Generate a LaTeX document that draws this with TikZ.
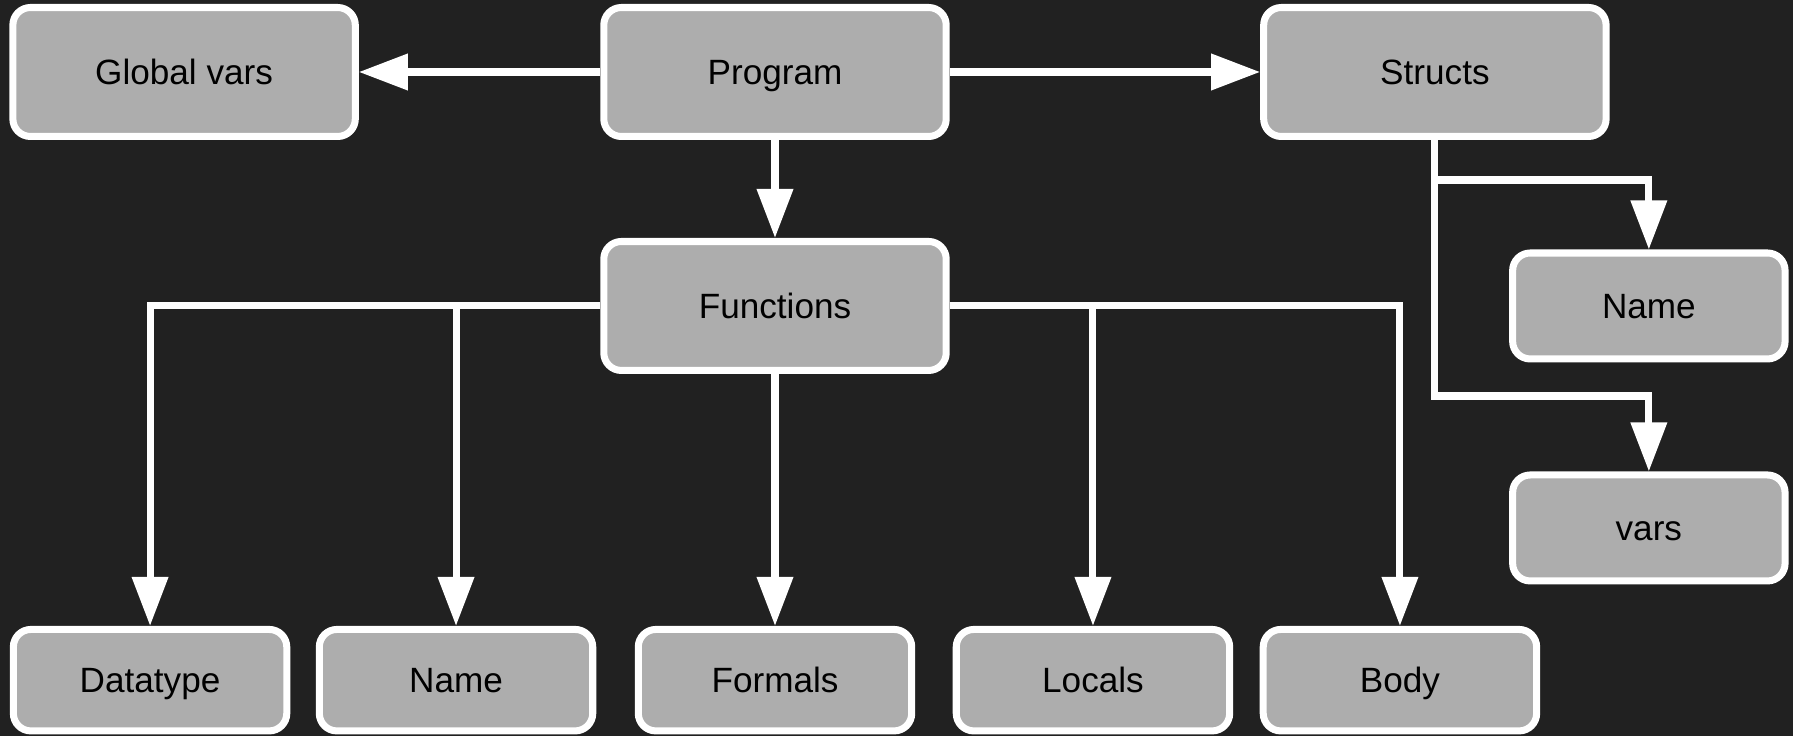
\documentclass[tikz,border=0pt]{standalone}
\usepackage{fontspec}
\setmainfont{Liberation Sans}
\usetikzlibrary{positioning, arrows.meta}
\definecolor{bgdark}{HTML}{212121}
\definecolor{boxgray}{HTML}{ADADAD}

\begin{document}
\begin{tikzpicture}[x=0.02cm, y=-0.02cm, >={Triangle[length=0.98cm, width=0.7cm]},
  box/.style={draw=white, fill=boxgray, line width=4pt, rounded corners=10pt, text=black,
    font=\fontsize{20pt}{24pt}\selectfont, text height=14.4pt, text depth=0pt,
    minimum width=6.85cm, minimum height=2.58cm},
  leaf/.style={box, minimum width=5.47cm, minimum height=2.03cm},
  link/.style={draw=white, line width=4pt, ->}]

\fill[bgdark] (0,0) rectangle (1793,736);
\useasboundingbox (0,0) rectangle (1793,736);

\node (program) [box] at (775,72) {Program};
\node (globals) [box, left=4.83cm of program] {Global vars};
\node (structs) [box, right=6.21cm of program] {Structs};
\node (functions) [box, below=1.96cm of program] {Functions};
\node (sname) [leaf, right=11.19cm of functions, minimum width=5.45cm, minimum height=2.12cm] {Name};
\node (vars) [leaf, below=2.18cm of sname, minimum width=5.45cm, minimum height=2.12cm] {vars};
\node (formals) [leaf, below=5.04cm of functions] {Formals};
\node (fname) [leaf, left=0.77cm of formals] {Name};
\node (datatype) [leaf, left=0.51cm of fname] {Datatype};
\node (locals) [leaf, right=0.75cm of formals] {Locals};
\node (body) [leaf, right=0.53cm of locals] {Body};

\draw[link] (program) -- (globals);
\draw[link] (program) -- (structs);
\draw[link] (program) -- (functions);
\draw[link] (functions.west) -| (datatype.north);
\draw[link] (functions.west) -| (fname.north);
\draw[link] (functions) -- (formals);
\draw[link] (functions.east) -| (locals.north);
\draw[link] (functions.east) -| (body.north);
\draw[link] (structs.south) -- ++(0,40) -| (sname.north);
\draw[link] (structs.south) -- ++(0,256) -| (vars.north);

\end{tikzpicture}
\end{document}
